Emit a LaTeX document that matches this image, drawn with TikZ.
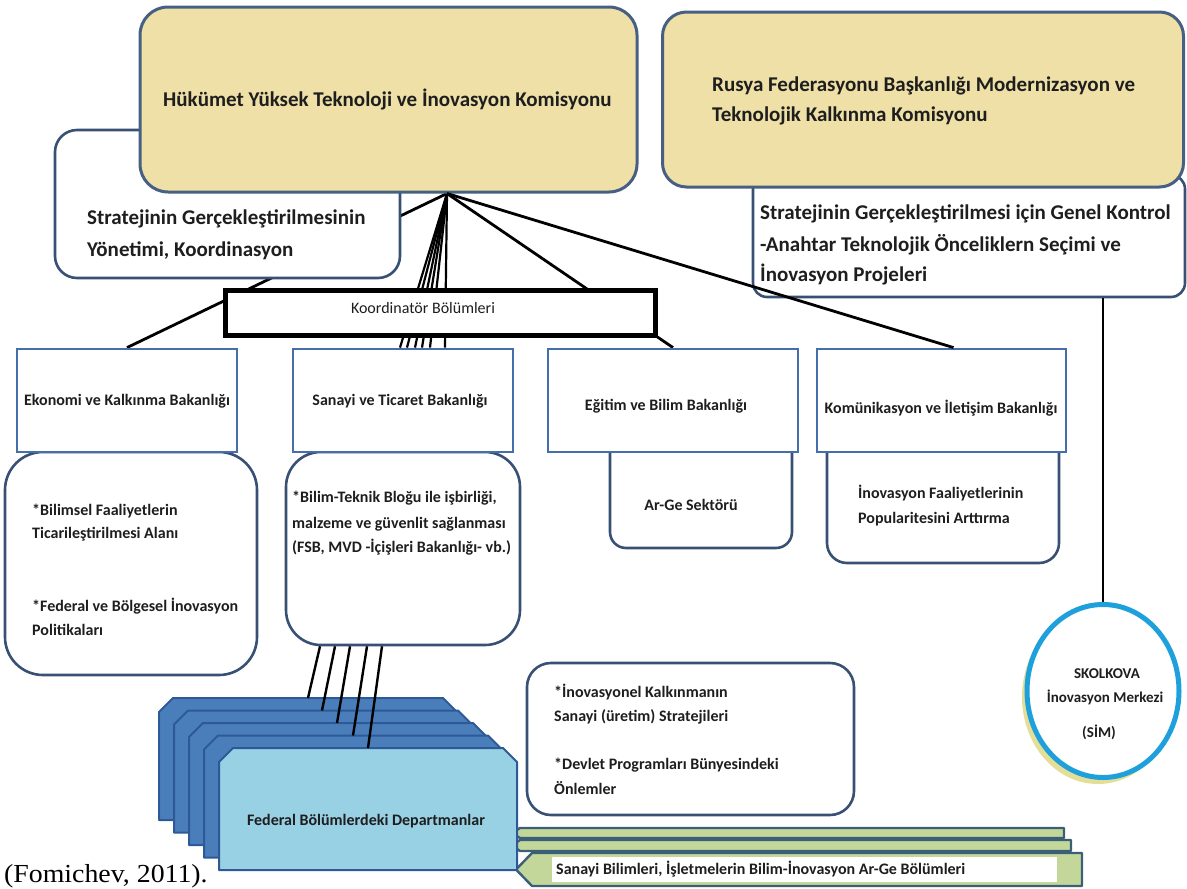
\documentclass[tikz,border=0pt]{standalone}
\usepackage{fontspec}
\setmainfont{Carlito}
\newfontfamily\serifface{Liberation Serif}
\usetikzlibrary{shapes.geometric,calc}
\pgfdeclarelayer{bg}
\pgfsetlayers{bg,main}
\definecolor{tanfill}{RGB}{238,224,166}
\definecolor{tanborder}{RGB}{70,95,130}
\definecolor{wborder}{RGB}{55,80,115}
\definecolor{minborder}{RGB}{70,110,170}
\definecolor{stackfill}{RGB}{74,126,187}
\definecolor{stackline}{RGB}{45,90,150}
\definecolor{frontfill}{RGB}{152,208,228}
\definecolor{barfill}{RGB}{195,215,155}
\definecolor{barline}{RGB}{60,95,120}
\definecolor{circblue}{RGB}{30,160,220}
\definecolor{shadowy}{RGB}{228,222,150}
\definecolor{txtcol}{RGB}{30,30,30}
\begin{document}
\begin{tikzpicture}[x=1pt,y=-1pt,
  tanbox/.style={draw=tanborder,fill=tanfill,line width=3pt,inner sep=0pt},
  wbox/.style={draw=wborder,fill=white,line width=2.6pt,inner sep=0pt},
  minbox/.style={draw=minborder,fill=white,line width=2.8pt,inner sep=0pt},
  bigtxt/.style={font=\fontsize{21}{25}\selectfont\bfseries,inner sep=0pt,anchor=base west,text=txtcol},
  smalltxt/.style={font=\fontsize{16}{19}\selectfont\bfseries,inner sep=0pt,anchor=base west,text=txtcol},
  ctxt/.style={font=\fontsize{16}{19}\selectfont\bfseries,inner sep=0pt,anchor=base,text=txtcol},
  sktxt/.style={font=\fontsize{15}{18}\selectfont\bfseries,inner sep=0pt,anchor=base,text=txtcol},
  link/.style={line width=2.8pt,draw=black},
  stackdark/.style={fill=stackfill,draw=stackline,line width=2pt,line join=round},
  stackfront/.style={fill=frontfill,draw=stackline,line width=2pt,line join=round},
  bar/.style={fill=barfill,draw=barline,line width=2.4pt,line join=round}
]
\useasboundingbox (0,0) rectangle (1187,889);

% upper boxes
\node[wbox,rounded corners=22pt,minimum width=345pt,minimum height=148pt] (lw) at (227.5,204) {};
\node[wbox,rounded corners=14pt,minimum width=432pt,minimum height=122pt] (rw) at (969,236) {};
\node[tanbox,rounded corners=28pt,minimum width=497pt,minimum height=185pt] (gov) at (388.5,99.5) {};
\node[tanbox,rounded corners=24pt,minimum width=521pt,minimum height=175pt] (rus) at (923,99.5) {};

\node[bigtxt] (govt) at (163,106) {Hükümet Yüksek Teknoloji ve İnovasyon Komisyonu};
\node[bigtxt] (lw1) at (87,224) {Stratejinin Gerçekleştirilmesinin};
\node[bigtxt] (lw2) at (87,256) {Yönetimi, Koordinasyon};
\node[bigtxt] (rus1) at (712,91) {Rusya Federasyonu Başkanlığı Modernizasyon ve};
\node[bigtxt] (rus2) at (712,121) {Teknolojik Kalkınma Komisyonu};
\node[bigtxt] (rw1) at (760,219) {Stratejinin Gerçekleştirilmesi için Genel Kontrol};
\node[bigtxt] (rw2) at (760,251) {-Anahtar Teknolojik Önceliklern Seçimi ve};
\node[bigtxt] (rw3) at (760,281) {İnovasyon Projeleri};

% coordinator box
\node[draw=black,fill=white,line width=5pt,minimum width=430pt,minimum height=45pt,inner sep=0pt] (koord) at (440,312.5) {};
\node[font=\fontsize{16}{18}\selectfont,text=txtcol,inner sep=0pt,anchor=base] (koordt) at (423,313) {Koordinatör Bölümleri};

% sub boxes
\node[wbox,rounded corners=38pt,minimum width=252pt,minimum height=223pt] (ekosub) at (131,563.5) {};
\node[wbox,rounded corners=35pt,minimum width=234pt,minimum height=193pt] (sansub) at (403,548.5) {};
\node[wbox,rounded corners=16pt,minimum width=182pt,minimum height=118pt] (argesub) at (701,489) {};
\node[wbox,rounded corners=20pt,minimum width=232pt,minimum height=133pt] (infsub) at (943,496.5) {};
\node[wbox,rounded corners=24pt,minimum width=327pt,minimum height=152pt] (inksub) at (690.5,739) {};

% ministries
\node[minbox,minimum width=220pt,minimum height=103pt] (eko) at (127,400.5) {};
\node[minbox,minimum width=220pt,minimum height=103pt] (san) at (403,400.5) {};
\node[minbox,minimum width=250pt,minimum height=103pt] (egi) at (673,400.5) {};
\node[minbox,minimum width=249pt,minimum height=103pt] (kom) at (941.5,400.5) {};

\node[ctxt] (ekot) at (127,405) {Ekonomi ve Kalkınma Bakanlığı};
\node[ctxt] (sant) at (400,405) {Sanayi ve Ticaret Bakanlığı};
\node[ctxt] (egit) at (666,410) {Eğitim ve Bilim Bakanlığı};
\node[ctxt] (komt) at (941,413) {Komünikasyon ve İletişim Bakanlığı};

\node[smalltxt] (eks1) at (32,515) {*Bilimsel Faaliyetlerin};
\node[smalltxt] (eks2) at (32,538) {Ticarileştirilmesi Alanı};
\node[smalltxt] (eks3) at (32,611) {*Federal ve Bölgesel İnovasyon};
\node[smalltxt] (eks4) at (32,635) {Politikaları};
\node[smalltxt] (sas1) at (292,502) {*Bilim-Teknik Bloğu ile işbirliği,};
\node[smalltxt] (sas2) at (292,528) {malzeme ve güvenlit sağlanması};
\node[smalltxt] (sas3) at (292,552) {(FSB, MVD -İçişleri Bakanlığı- vb.)};
\node[ctxt] (arget) at (691,510) {Ar-Ge Sektörü};
\node[smalltxt] (inf1) at (858,498) {İnovasyon Faaliyetlerinin};
\node[smalltxt] (inf2) at (858,523) {Popularitesini Arttırma};
\node[smalltxt] (ink1) at (554,697) {*İnovasyonel Kalkınmanın};
\node[smalltxt] (ink2) at (554,721) {Sanayi (üretim) Stratejileri};
\node[smalltxt] (ink3) at (554,769) {*Devlet Programları Bünyesindeki};
\node[smalltxt] (ink4) at (554,794) {Önlemler};

% connectors from the government commission
\coordinate (apex) at ([xshift=58.5pt]gov.south);
\begin{pgfonlayer}{bg}
\draw[link] (apex) -- (eko.north);
\foreach \d in {-3,4,12,19,27,42} \draw[link,line width=2.2pt] (apex) -- ([xshift=\d pt]san.north);
\draw[link] (apex) -- (egi.north);
\end{pgfonlayer}
\draw[link] (apex) -- ([xshift=12pt]kom.north);

% bars
\draw[bar] (512,833) -- (520,828) -- (1064,828) -- (1064,838) -- (520,838) -- cycle;
\draw[bar] (512,845.5) -- (520,840) -- (1071,840) -- (1071,851) -- (520,851) -- cycle;
\draw[bar] (516,869.5) -- (532,853) -- (1082,853) -- (1082,886) -- (532,886) -- cycle;
\fill[white] (552,857) rectangle (1057,882);
\node[smalltxt] (sbar) at (556,874) {Sanayi Bilimleri, İşletmelerin Bilim-İnovasyon Ar-Ge Bölümleri};

% stack of federal departments
\foreach \k in {0,1,2,3}
  \draw[stackdark] ({159+15*\k},{820+12.5*\k}) -- ++(0,-108) -- ++(14,-14) -- ++(270,0) -- ++(14,14) -- ++(0,108) -- cycle;
\draw[stackfront] (219,870) -- (219,762) -- (233,748) -- (503,748) -- (517,762) -- (517,870) -- cycle;
\node[ctxt] (fedt) at (366,825) {Federal Bölümlerdeki Departmanlar};
\foreach \k/\sx/\ex in {0/-83/308,1/-68/322,2/-53/337,3/-36/353,4/-21/368} {
  \coordinate (st\k) at (\ex,{698+12.5*\k});
  \draw[link,line width=2.4pt] ([xshift=\sx pt]sansub.south) -- (st\k);
}

% Skolkova
\fill[shadowy] (1098,697) ellipse [x radius=76pt, y radius=87pt];
\node[ellipse,draw=circblue,fill=white,line width=5pt,minimum width=152pt,minimum height=173pt,inner sep=0pt] (sk) at (1103,691) {};
\draw[link,line width=2.6pt] (sk.north |- rw.south) -- (sk.north);
\node[sktxt] (sk1) at (1107,678) {SKOLKOVA};
\node[sktxt] (sk2) at (1105,702) {İnovasyon Merkezi};
\node[sktxt] (sk3) at (1099,737) {(SİM)};

\node[font=\serifface\fontsize{26}{30}\selectfont,inner sep=0pt,anchor=base west,text=black] (fom) at (4,882) {\scalebox{1.07}[1]{(Fomichev, 2011).}};
\end{tikzpicture}
\end{document}
